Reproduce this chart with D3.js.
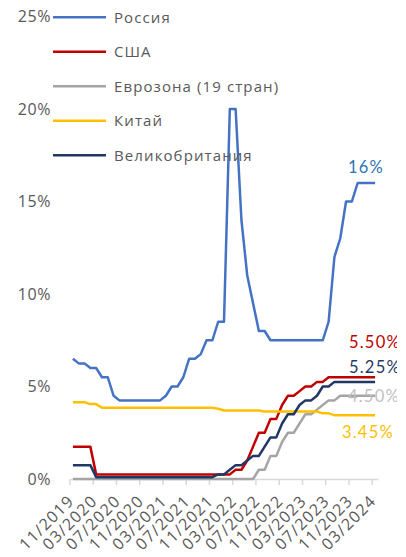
<!DOCTYPE html>
<html>
<head>
<meta charset="utf-8">
<script src="https://cdn.jsdelivr.net/npm/d3@7"></script>
<style>
  body { margin: 0; background: #fff; }
  text { font-family: "Open Sans", sans-serif; }
</style>
</head>
<body>
<div id="chart"></div>
<script>
// monthly, end of month
var months = ["11/2019","12/2019","01/2020","02/2020","03/2020","04/2020","05/2020","06/2020","07/2020","08/2020",
  "09/2020","10/2020","11/2020","12/2020","01/2021","02/2021","03/2021","04/2021","05/2021","06/2021",
  "07/2021","08/2021","09/2021","10/2021","11/2021","12/2021","01/2022","02/2022","03/2022","04/2022",
  "05/2022","06/2022","07/2022","08/2022","09/2022","10/2022","11/2022","12/2022","01/2023","02/2023",
  "03/2023","04/2023","05/2023","06/2023","07/2023","08/2023","09/2023","10/2023","11/2023","12/2023",
  "01/2024","02/2024","03/2024"];
var tickLabels = ["11/2019","03/2020","07/2020","11/2020","03/2021","07/2021","11/2021",
  "03/2022","07/2022","11/2022","03/2023","07/2023","11/2023","03/2024"];
var yTicks = [0, 5, 10, 15, 20, 25];

var russia = [6.5,6.25,6.25,6,6,5.5,5.5,4.5,4.25,4.25,4.25,4.25,4.25,4.25,4.25,4.25,4.5,5,5,5.5,
  6.5,6.5,6.75,7.5,7.5,8.5,8.5,20,20,14,11,9.5,8,8,7.5,7.5,7.5,7.5,7.5,7.5,
  7.5,7.5,7.5,7.5,8.5,12,13,15,15,16,16,16,16];
var usa = [1.75,1.75,1.75,1.75,0.25,0.25,0.25,0.25,0.25,0.25,0.25,0.25,0.25,0.25,0.25,0.25,0.25,0.25,0.25,0.25,
  0.25,0.25,0.25,0.25,0.25,0.25,0.25,0.25,0.5,0.5,1,1.75,2.5,2.5,3.25,3.25,4,4.5,4.5,4.75,
  5,5,5.25,5.25,5.5,5.5,5.5,5.5,5.5,5.5,5.5,5.5,5.5];
var eurozone = [0,0,0,0,0,0,0,0,0,0,0,0,0,0,0,0,0,0,0,0,
  0,0,0,0,0,0,0,0,0,0,0,0,0.5,0.5,1.25,1.25,2,2.5,2.5,3,
  3.5,3.5,3.75,4,4.25,4.25,4.5,4.5,4.5,4.5,4.5,4.5,4.5];
var china = [4.15,4.15,4.15,4.05,4.05,3.85,3.85,3.85,3.85,3.85,3.85,3.85,3.85,3.85,3.85,3.85,3.85,3.85,3.85,3.85,
  3.85,3.85,3.85,3.85,3.85,3.8,3.7,3.7,3.7,3.7,3.7,3.7,3.7,3.65,3.65,3.65,3.65,3.65,3.65,3.65,
  3.65,3.65,3.65,3.55,3.55,3.45,3.45,3.45,3.45,3.45,3.45,3.45,3.45];
var uk = [0.75,0.75,0.75,0.75,0.1,0.1,0.1,0.1,0.1,0.1,0.1,0.1,0.1,0.1,0.1,0.1,0.1,0.1,0.1,0.1,
  0.1,0.1,0.1,0.1,0.1,0.25,0.25,0.5,0.75,0.75,1,1.25,1.25,1.75,2.25,2.25,3,3.5,3.5,4,
  4.25,4.25,4.5,5,5,5.25,5.25,5.25,5.25,5.25,5.25,5.25,5.25];

var seriesNames = ["Россия", "США", "Еврозона (19 стран)", "Китай", "Великобритания"];
var endLabels = ["16%", "5.50%", "5.25%", "4.50%", "3.45%"];

var seriesData = [russia, usa, eurozone, china, uk];
var lineColors = ["#4472C4", "#C00000", "#A5A5A5", "#FFC000", "#1F3864"];
var labelColors = ["#2E75B6", "#C00000", "#1F3864", "#BFBFBF", "#FFC000"];

var width = 406, height = 557;

var svg = d3.select("#chart").append("svg")
    .attr("width", width)
    .attr("height", height);

svg.append("clipPath").attr("id", "clip")
  .append("rect").attr("x", 0).attr("y", 0).attr("width", 397).attr("height", height);

var x = d3.scaleBand()
    .domain(months)
    .range([70, 378])
    .padding(0);

var y = d3.scaleLinear()
    .domain([0, 25])
    .range([479, 16.5]);

// y tick labels
svg.selectAll(".ylab")
  .data(yTicks)
  .enter().append("text")
  .attr("class", "ylab")
  .attr("x", 51)
  .attr("y", function(d) { return y(d); })
  .attr("dy", "0.35em")
  .attr("text-anchor", "end")
  .style("font-size", "16px")
  .style("letter-spacing", "0.6px")
  .style("fill", "#595959")
  .text(function(d) { return d + "%"; });

// x axis
var xAxis = d3.axisBottom(x)
    .tickValues(tickLabels)
    .tickSize(6)
    .tickSizeOuter(0)
    .tickFormat("");

var gx = svg.append("g")
    .attr("transform", "translate(0," + y(0) + ")")
    .call(xAxis);
gx.select(".domain").attr("stroke", "#D9D9D9").attr("stroke-width", 1.5);
gx.selectAll(".tick")
    .attr("transform", function(d) { return "translate(" + x(d) + ",0)"; });
gx.selectAll(".tick line").attr("stroke", "#D9D9D9").attr("stroke-width", 1.5);

gx.selectAll(".tick").append("text")
    .attr("transform", "translate(5,23) rotate(-45)")
    .attr("text-anchor", "end")
    .attr("fill", "#595959")
    .style("font-size", "16px")
    .style("letter-spacing", "1.2px")
    .text(function(d) { return d; });

// lines
var line = d3.line()
    .x(function(d, i) { return x(months[i]) + x.bandwidth() / 2; })
    .y(function(d) { return y(d); });

svg.selectAll(".series")
  .data(seriesData)
  .enter().append("path")
  .attr("class", "series")
  .attr("d", line)
  .attr("fill", "none")
  .attr("stroke", function(d, i) { return lineColors[i]; })
  .attr("stroke-width", 2.5)
  .attr("stroke-linejoin", "round");

// end value labels (russia, usa, uk, eurozone, china)
var lastIdx = months.length - 1;
var labelOrder = [0, 1, 4, 2, 3];
var labelDy = [-10, -29, -9, 6, 23];
var labelX = [348, 349, 349, 348, 342];
var endG = svg.append("g").attr("clip-path", "url(#clip)");
endG.selectAll(".endlab")
  .data(labelOrder)
  .enter().append("text")
  .attr("class", "endlab")
  .attr("x", function(k, j) { return labelX[j]; })
  .attr("y", function(k, j) { return y(seriesData[k][lastIdx]) + labelDy[j]; })
  .style("font-family", "Lato, sans-serif")
  .style("font-size", "16.5px")
  .style("letter-spacing", "1.2px")
  .style("fill", function(k, j) { return labelColors[j]; })
  .text(function(k, j) { return endLabels[j]; });

// legend
var legend = svg.selectAll(".legend")
  .data(seriesNames)
  .enter().append("g")
  .attr("class", "legend")
  .attr("transform", function(d, i) { return "translate(53," + (17.3 + i * 34.5) + ")"; });

legend.append("line")
  .attr("x1", 0).attr("x2", 53)
  .attr("stroke", function(d, i) { return lineColors[i]; })
  .attr("stroke-width", 2.5);

legend.append("text")
  .attr("x", 61)
  .attr("dy", "0.35em")
  .style("font-size", "15px")
  .style("letter-spacing", "1.1px")
  .style("fill", "#595959")
  .text(function(d) { return d; });
</script>
</body>
</html>
